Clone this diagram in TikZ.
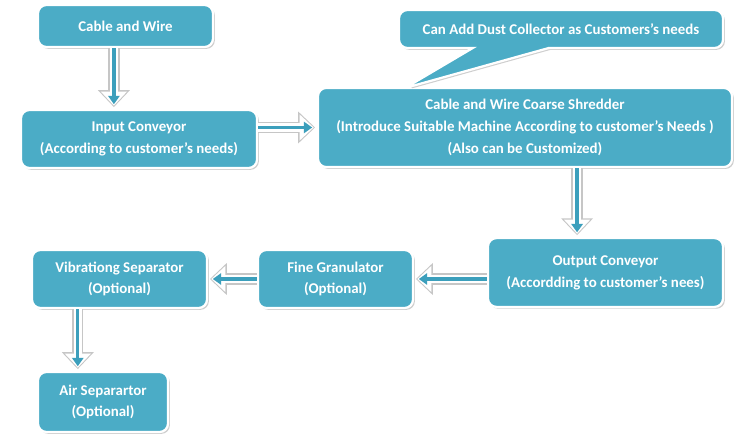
\documentclass[tikz,border=0pt]{standalone}
\usepackage{fontspec}
\setmainfont{Carlito}
\usepackage{xcolor}
\usetikzlibrary{arrows.meta,shadows,shapes.callouts}

\definecolor{boxblue}{HTML}{4BACC6}
\definecolor{arrowblue}{HTML}{3C9FBC}

\tikzset{
  stepbox/.style={rounded corners=6pt, fill=boxblue, draw=white, line width=1.6pt,
    text=white, font=\bfseries\fontsize{10.6}{15.5}\selectfont, align=center,
    drop shadow={shadow xshift=1.3pt, shadow yshift=-1.3pt, fill=gray!70, opacity=0.55}},
  flowrim/.style={draw=gray!45, line width=8pt, shorten >=-1pt, -{Triangle[length=12pt,width=22pt]}},
  flowbody/.style={draw=white, line width=6pt, -{Triangle[length=10pt,width=18pt]}},
  flowcore/.style={draw=arrowblue, line width=2.4pt, shorten >=1pt, -{Triangle[length=6pt,width=8pt]}}
}

\begin{document}
\begin{tikzpicture}[x=0.025cm, y=-0.025cm]
\useasboundingbox (0,0) rectangle (740,445);

% Process boxes
\node[stepbox, minimum width=4.375cm, minimum height=1.05cm] (cable) at (125.5,26) {Cable and Wire};
\node[stepbox, minimum width=5.9cm, minimum height=1.45cm] (input) at (139,139) {Input Conveyor\\(According to customer’s needs)};
\node[stepbox, minimum width=10.35cm, minimum height=1.98cm] (shredder) at (525,127.5) {Cable and Wire Coarse Shredder\\(Introduce Suitable Machine According to customer’s Needs )\\(Also can be Customized)};
\node[stepbox, minimum width=5.875cm, minimum height=1.72cm] (output) at (605.5,272.5) {Output Conveyor\\(Accordding to customer’s nees)};
\node[stepbox, minimum width=3.875cm, minimum height=1.45cm] (fine) at (335.5,279) {Fine Granulator\\(Optional)};
\node[stepbox, minimum width=4.375cm, minimum height=1.45cm] (vib) at (119.5,279) {Vibrationg Separator\\(Optional)};
\node[stepbox, minimum width=3.25cm, minimum height=1.5cm] (air) at (103,402) {Air Separartor\\(Optional)};

% Dust collector note
\node[stepbox, rectangle callout, callout absolute pointer={(405,88)}, callout pointer width=1.9cm,
  minimum width=8.1cm, minimum height=0.95cm] (dust) at (561,29) {Can Add Dust Collector as Customers’s needs};

% Arrow ends
\coordinate (a1) at ([xshift=-0.29cm]cable.south);
\coordinate (b1) at ([xshift=-0.29cm,yshift=0.08cm]cable.south |- input.north);
\coordinate (a2) at (input.east |- shredder.west);
\coordinate (b2) at ([xshift=-0.08cm]shredder.west);
\coordinate (a3) at ([xshift=-0.71cm]output.north |- shredder.south);
\coordinate (b3) at ([xshift=-0.71cm,yshift=0.08cm]output.north);
\coordinate (a4) at (output.west |- fine.east);
\coordinate (b4) at ([xshift=0.08cm]fine.east);
\coordinate (a5) at (fine.west |- vib.east);
\coordinate (b5) at ([xshift=0.08cm]vib.east);
\coordinate (a6) at ([xshift=-0.63cm]air.north |- vib.south);
\coordinate (b6) at ([xshift=-0.63cm,yshift=0.08cm]air.north);

% Arrows
\foreach \s/\e in {a1/b1, a2/b2, a3/b3, a4/b4, a5/b5, a6/b6} {
  \draw[flowrim] (\s) -- (\e);
  \draw[flowbody] (\s) -- (\e);
  \draw[flowcore] (\s) -- (\e);
}
\end{tikzpicture}
\end{document}
